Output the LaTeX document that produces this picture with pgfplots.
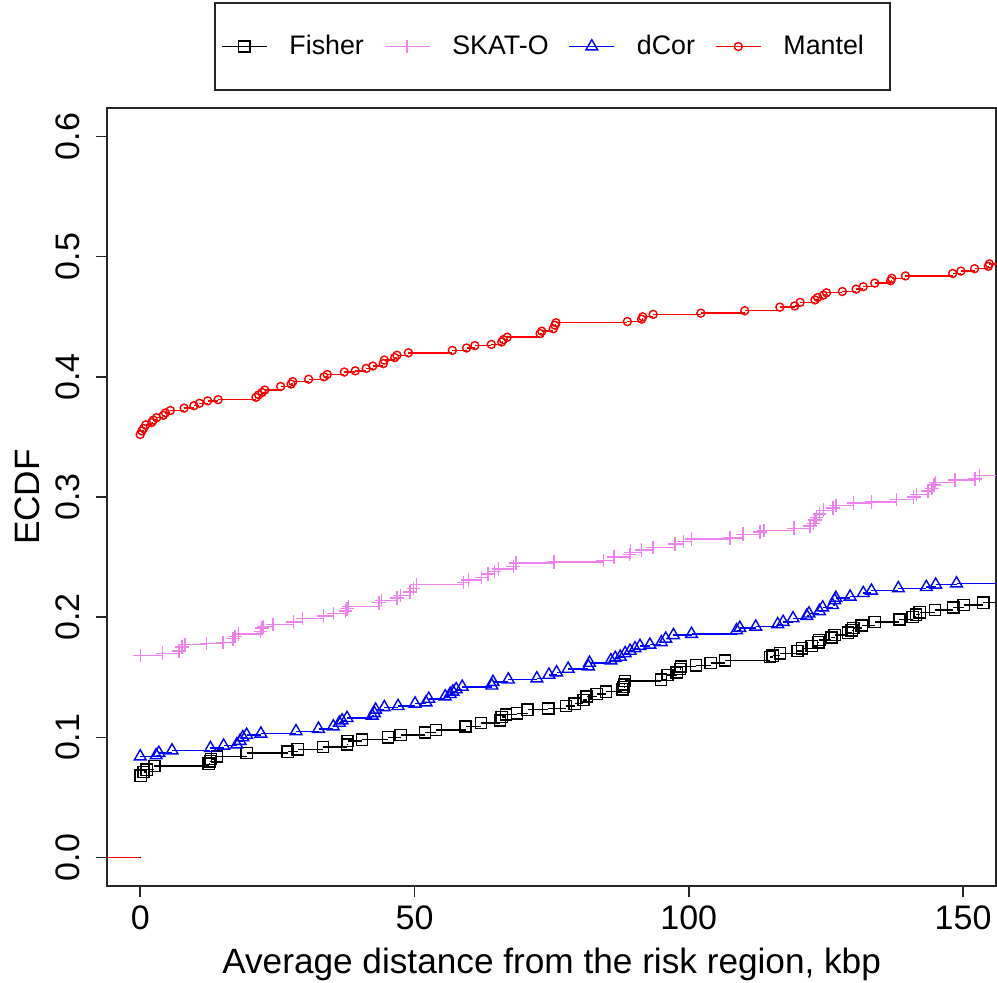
\documentclass[border=0pt]{standalone}
\usepackage{fontspec}
\setmainfont{Liberation Sans}
\usepackage{pgfplots}
\usepackage{pgfplotstable}
\pgfplotsset{compat=1.18}

\definecolor{skatcol}{RGB}{238,130,238}

% ECDF jump points: distance (kbp) and cumulative fraction
\pgfplotstableread{
x y
0.1 0.068
0.6 0.071
1.2 0.073
2.6 0.076
12.5 0.078
12.7 0.080
12.9 0.082
14.0 0.084
19.4 0.087
26.9 0.088
28.7 0.090
33.3 0.092
37.7 0.094
37.8 0.097
40.4 0.098
45.2 0.100
47.5 0.102
51.9 0.104
53.9 0.106
59.3 0.109
62.1 0.112
65.6 0.114
65.9 0.117
66.7 0.119
68.7 0.120
70.6 0.123
74.4 0.124
77.6 0.126
79.2 0.128
80.8 0.131
81.4 0.134
83.2 0.136
84.9 0.138
87.9 0.140
88.1 0.142
88.2 0.144
88.4 0.147
94.9 0.148
96.1 0.152
97.8 0.154
98.4 0.157
98.6 0.159
101.3 0.160
104.0 0.162
106.6 0.164
114.8 0.167
115.3 0.168
116.6 0.170
119.8 0.172
120.6 0.174
122.4 0.176
123.6 0.179
123.8 0.181
126.0 0.183
126.6 0.185
129.0 0.187
129.7 0.189
130.0 0.191
131.5 0.193
133.9 0.196
138.4 0.198
140.8 0.200
141.4 0.202
142.1 0.204
144.9 0.206
148.2 0.208
150.1 0.210
153.7 0.212
}\fisher

\pgfplotstableread{
x y
0.0 0.168
4.1 0.170
7.1 0.172
7.6 0.175
8.2 0.177
12.1 0.178
15.1 0.179
16.9 0.182
17.3 0.184
17.9 0.186
21.9 0.188
22.2 0.191
22.5 0.192
24.2 0.194
27.9 0.196
29.6 0.199
33.4 0.201
35.2 0.203
37.4 0.205
37.7 0.207
38.0 0.209
43.5 0.212
44.0 0.214
46.8 0.216
47.4 0.218
49.2 0.221
49.8 0.224
50.4 0.227
58.9 0.229
59.8 0.231
62.2 0.233
63.4 0.236
64.6 0.238
65.3 0.240
68.0 0.242
68.5 0.245
75.4 0.246
84.4 0.247
86.4 0.250
89.2 0.252
89.4 0.254
91.4 0.256
93.5 0.258
97.5 0.261
99.0 0.263
100.5 0.265
107.5 0.266
109.9 0.269
113.0 0.271
113.7 0.272
119.2 0.274
122.1 0.276
122.7 0.278
123.0 0.281
123.3 0.283
123.8 0.286
124.5 0.289
126.3 0.291
126.8 0.293
130.0 0.295
133.3 0.296
137.9 0.298
141.0 0.300
141.5 0.302
143.6 0.305
144.3 0.307
144.7 0.310
145.0 0.312
148.5 0.314
152.2 0.315
153.0 0.318
}\skato

\pgfplotstableread{
x y
0.0 0.084
2.9 0.085
3.4 0.087
5.8 0.089
12.8 0.091
15.2 0.093
17.6 0.094
18.2 0.097
18.7 0.100
19.4 0.102
22.0 0.103
28.4 0.105
32.5 0.107
35.2 0.109
36.3 0.112
36.8 0.114
37.7 0.116
42.3 0.118
42.7 0.120
42.9 0.123
44.5 0.125
47.0 0.126
50.1 0.128
52.1 0.129
52.6 0.132
55.6 0.134
56.5 0.136
57.0 0.138
57.6 0.140
58.7 0.142
64.1 0.143
64.3 0.146
67.1 0.148
72.3 0.149
74.5 0.152
75.9 0.154
78.0 0.157
81.7 0.159
81.9 0.162
85.8 0.164
86.6 0.166
87.5 0.167
88.4 0.170
89.3 0.172
90.2 0.174
91.1 0.176
92.9 0.177
95.0 0.179
95.8 0.182
97.2 0.185
100.5 0.186
108.7 0.189
109.3 0.191
112.2 0.192
116.2 0.194
117.2 0.196
119.0 0.199
121.5 0.201
121.9 0.203
123.8 0.205
124.4 0.208
126.2 0.210
126.6 0.214
126.8 0.216
129.4 0.217
131.8 0.220
133.3 0.222
138.2 0.224
143.3 0.225
145.0 0.227
148.8 0.228
}\dcor

\pgfplotstableread{
x y
0.0 0.352
0.3 0.355
0.6 0.357
1.0 0.360
2.1 0.362
2.4 0.364
3.0 0.366
4.2 0.368
4.6 0.370
5.5 0.372
8.0 0.374
9.8 0.376
10.8 0.378
12.3 0.380
14.2 0.381
21.1 0.383
21.6 0.385
22.2 0.387
22.7 0.389
25.6 0.392
27.5 0.394
27.8 0.396
30.7 0.398
33.5 0.400
34.1 0.402
37.2 0.404
39.2 0.405
41.2 0.407
42.4 0.409
44.3 0.411
44.5 0.414
46.4 0.416
46.8 0.418
48.9 0.420
56.9 0.422
59.5 0.424
61.0 0.426
64.0 0.427
65.9 0.429
66.2 0.431
66.9 0.433
72.9 0.436
73.2 0.438
75.3 0.440
75.6 0.443
75.8 0.445
88.8 0.446
91.4 0.448
91.6 0.450
93.5 0.452
102.2 0.453
110.2 0.455
116.6 0.458
119.3 0.459
120.3 0.462
123.0 0.464
123.5 0.466
124.5 0.468
125.1 0.470
128.0 0.471
130.5 0.473
131.8 0.475
133.9 0.478
136.8 0.480
137.0 0.482
139.5 0.484
148.1 0.486
149.6 0.488
152.1 0.490
154.6 0.492
154.8 0.494
}\mantel

\begin{document}
\begin{tikzpicture}
\path[use as bounding box] (-53.65pt,-47.85pt) rectangle (444.85pt,443.15pt);
\begin{axis}[
  scale only axis,
  width=444.35pt, height=389.3pt,
  xmin=-6, xmax=156, ymin=-0.024, ymax=0.624,
  axis line style={line width=1pt, black!85},
  xtick={0,50,100,150},
  ytick={0,0.1,0.2,0.3,0.4,0.5,0.6},
  xtick pos=left, ytick pos=left,
  tick align=outside,
  major tick length=5.5pt,
  tick style={line width=0.8pt, black!85},
  /pgf/number format/assume math mode=true,
  ticklabel style={font=\fontsize{17}{20}\selectfont, inner sep=0pt},
  xticklabel style={anchor=north, yshift=-4pt},
  yticklabel style={xshift=-8.1pt, rotate=90, anchor=south,
    /pgf/number format/.cd, fixed, fixed zerofill, precision=1},
  xlabel={Average distance from the risk region, kbp},
  ylabel={ECDF},
  every axis x label/.style={at={(axis description cs:0.5,-0.0792)},
    anchor=north, inner sep=0pt, font=\fontsize{17.6}{21}\selectfont},
  every axis y label/.style={at={(axis description cs:-0.0757,0.5)},
    rotate=90, anchor=south, inner sep=0pt, font=\fontsize{17.6}{21}\selectfont},
  legend columns=4,
  legend cell align=left,
  legend style={
    at={(axis description cs:0.1201,1.0218)}, anchor=south west,
    draw=black!85, line width=1pt,
    font=\fontsize{13.4}{15}\selectfont,
    inner xsep=3pt, inner ysep=16pt,
    nodes={inner sep=0pt},
    /tikz/every odd column/.append style={column sep=11pt},
    /tikz/every even column/.append style={column sep=10pt},
  },
  legend image code/.code={
    \draw[mark repeat=2, mark phase=2, #1]
      plot coordinates {(0pt,0pt) (11.25pt,0pt) (22.5pt,0pt)};
  },
  every axis plot/.append style={line width=0.7pt},
]
% Fisher
\addplot[black, jump mark left, mark=square, mark size=2.8pt, mark options={solid}] table {\fisher};
\addlegendentry{Fisher}
\addplot[black, sharp plot, no markers, forget plot] coordinates {(-20,0) (0.1,0)};
\addplot[black, sharp plot, no markers, forget plot] coordinates {(153.7,0.212) (200,0.212)};
% SKAT-O
\addplot[skatcol, jump mark left, mark=+, mark size=3.4pt, mark options={solid}] table {\skato};
\addlegendentry{SKAT-O}
\addplot[skatcol, sharp plot, no markers, forget plot] coordinates {(-20,0) (0,0)};
\addplot[skatcol, sharp plot, no markers, forget plot] coordinates {(153.0,0.318) (200,0.318)};
% dCor
\addplot[blue, jump mark left, mark=triangle, mark size=3.4pt, mark options={solid}] table {\dcor};
\addlegendentry{dCor}
\addplot[blue, sharp plot, no markers, forget plot] coordinates {(-20,0) (0,0)};
\addplot[blue, sharp plot, no markers, forget plot] coordinates {(148.8,0.228) (200,0.228)};
% Mantel
\addplot[red, jump mark left, mark=o, mark size=2pt, mark options={solid}] table {\mantel};
\addlegendentry{Mantel\hspace*{10pt}}
\addplot[red, sharp plot, no markers, forget plot] coordinates {(-20,0) (0,0)};
\addplot[red, sharp plot, no markers, forget plot] coordinates {(154.8,0.494) (200,0.494)};
\end{axis}
\end{tikzpicture}
\end{document}
